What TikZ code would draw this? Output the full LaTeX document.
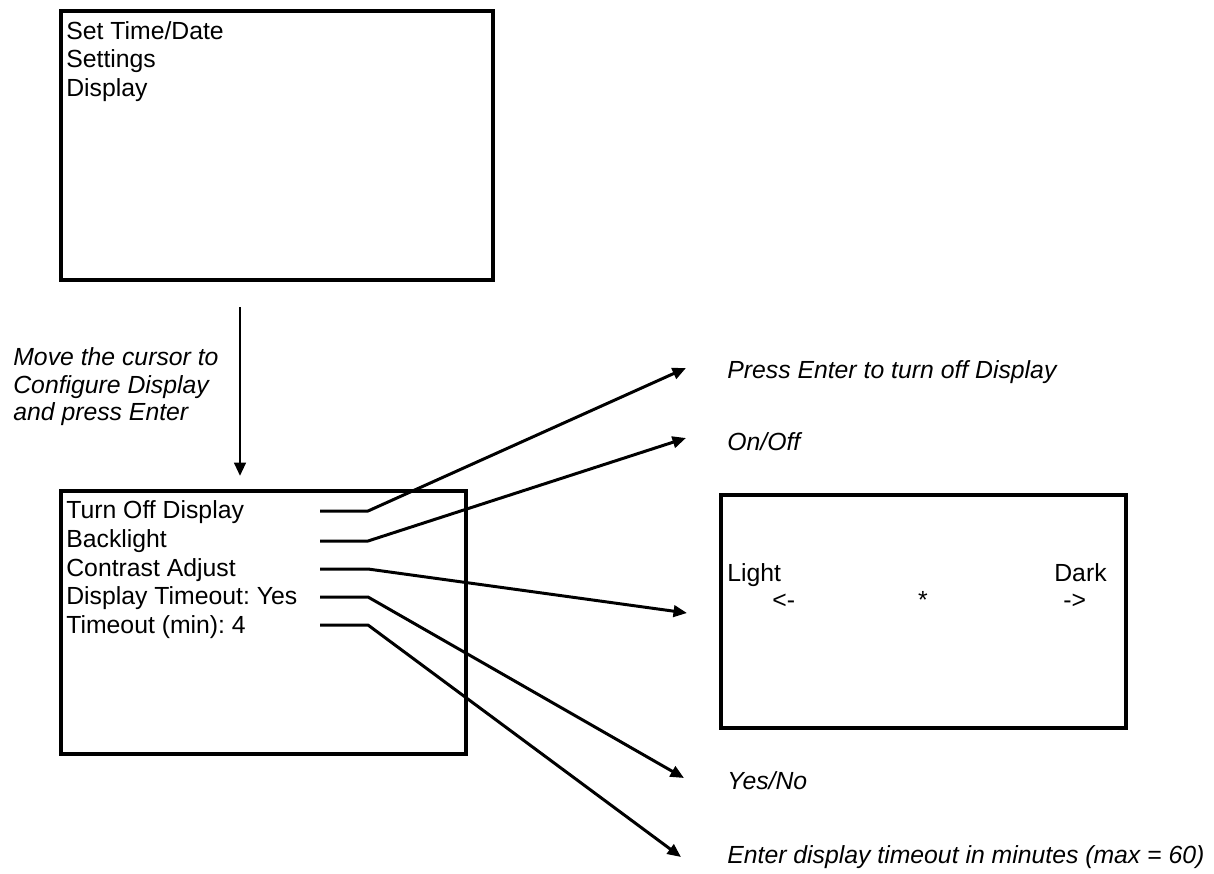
\documentclass[tikz,border=0pt]{standalone}
\usepackage{fontspec}
\setmainfont{Liberation Sans}
\usepackage{tikz}
\usetikzlibrary{arrows.meta,positioning}
\newcommand{\lcdfont}{\fontsize{14.1}{16}\selectfont}
\frenchspacing

\begin{document}
\begin{tikzpicture}[x=0.02cm,y=-0.02cm]
                \tikzstyle{screen}=[rectangle, draw=black, line width=2.6pt, inner sep=0pt]
                \tikzstyle{item}=[anchor=base west, inner sep=0pt, font=\lcdfont]
                \tikzstyle{hint}=[item, font=\lcdfont\itshape]
                \tikzstyle{connect}=[line width=1.7pt, line join=round]
                \tikzstyle{pointer}=[connect, -{Triangle[length=0.27cm,width=0.23cm]}]
                \useasboundingbox (0,0) rectangle (1214,873);
                % main menu
                \node[screen, minimum width=8.64cm, minimum height=5.38cm] (home) at (277,145.5){};
                \node[item] (settime) at (66,39){Set Time/Date};
                \node[item] (settings) at (66,67.5){Settings};
                \node[item] (display) at (66,96){Display};
                % how to get into the display menu
                \node[hint] (move1) at (13,365){Move the cursor to};
                \node[hint] (move2) at (13,393){Configure Display};
                \node[hint] (move3) at (13,420){and press Enter};
                \coordinate (v0) at (240,307);
                \coordinate (v1) at (240,476);
                \path (v0) edge [pointer] (v1);
                % display menu
                \node[screen, minimum width=8.1cm, minimum height=5.26cm] (disp) at (263.5,622.5){};
                \node[item] (off) at (66,518){Turn Off Display};
                \node[item] (backlight) at (66,547){Backlight};
                \node[item] (contrastadj) at (66,576){Contrast Adjust};
                \node[item] (dto) at (66,604.5){Display Timeout: Yes};
                \node[item] (tmo) at (66,633){Timeout (min): 4};
                % contrast screen
                \node[screen, minimum width=8.1cm, minimum height=4.66cm] (contrast) at (923.5,611.5){};
                \node[item] (light) at (727,581){Light};
                \node[item, anchor=base east] (dark) at (1107,581){Dark};
                \node[item] (left) at (772,608){<-};
                \node[item, anchor=base] (star) at (923,608){*};
                \node[item] (right) at (1063,608){->};
                % what each entry does
                \node[hint] (h1) at (727,378){Press Enter to turn off Display};
                \node[hint] (h2) at (727,450){On/Off};
                \node[hint] (h4) at (727,789){Yes/No};
                \node[hint] (h5) at (727,863){Enter display timeout in minutes (max = 60)};
                \coordinate (s1) at (320,511);
                \coordinate (s2) at (320,541);
                \coordinate (s3) at (320,569);
                \coordinate (s4) at (320,597);
                \coordinate (s5) at (320,625);
                \coordinate (k1) at (368,511);
                \coordinate (k2) at (368,541);
                \coordinate (k3) at (368,569);
                \coordinate (k4) at (368,597);
                \coordinate (k5) at (368,625);
                \coordinate (t1) at (686,368);
                \coordinate (t2) at (686,438);
                \coordinate (t3) at (687,613);
                \coordinate (t4) at (684,778);
                \coordinate (t5) at (681,857);
                \draw[pointer] (s1) -- (k1) -- (t1);
                \draw[pointer] (s2) -- (k2) -- (t2);
                \draw[pointer] (s3) -- (k3) -- (t3);
                \draw[pointer] (s4) -- (k4) -- (t4);
                \draw[pointer] (s5) -- (k5) -- (t5);
\end{tikzpicture}
\end{document}
